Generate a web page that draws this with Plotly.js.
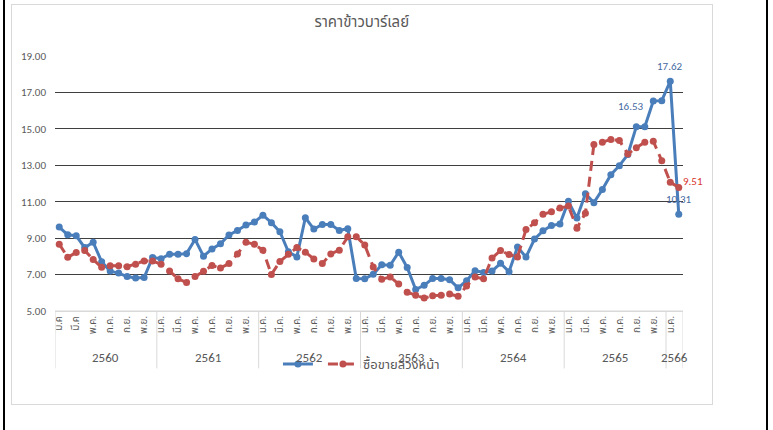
<!DOCTYPE html>
<html>
<head>
<meta charset="utf-8">
<script src="https://cdn.plot.ly/plotly-3.0.1.min.js"></script>
<style>
  html, body { margin:0; padding:0; background:#ffffff; }
  #wrap { position:relative; width:773px; height:430px; overflow:hidden; }
  #frame { position:absolute; left:11px; top:4px; width:700px; height:399px; border:1px solid #D9D9D9; }
  .blk { position:absolute; top:0; width:2px; height:430px; background:#000; }
  #chart { position:absolute; left:0; top:0; width:773px; height:430px; }
</style>
</head>
<body>
<div id="wrap">
  <div id="frame"></div>
  <div class="blk" style="left:3px"></div>
  <div class="blk" style="left:766px"></div>
  <div id="chart"></div>
</div>
<script>
// ---- data ----
const chartTitle = "ราคาข้าวบาร์เลย์";
const years = ["2560","2561","2562","2563","2564","2565","2566"];
const monthsPerYear = [12,12,12,12,12,12,2];
const monthLabels = ["ม.ค.","ก.พ.","มี.ค.","เม.ย.","พ.ค.","มิ.ย.","ก.ค.","ส.ค.","ก.ย.","ต.ค.","พ.ย.","ธ.ค."];
const firstYearLabels = ["ม.ค","ก.พ","มี.ค"];
const yTicks = [5,7,9,11,13,15,17,19];

const spotName = "";
const spotPrice = [
  9.61,9.18,9.13,8.48,8.77,7.70,7.19,7.08,6.89,6.81,6.84,7.94,
  7.87,8.12,8.12,8.15,8.93,8.01,8.41,8.69,9.17,9.42,9.72,9.88,
  10.26,9.85,9.35,8.25,7.97,10.12,9.50,9.75,9.75,9.42,9.52,6.78,
  6.77,7.02,7.54,7.51,8.23,7.39,6.18,6.41,6.78,6.78,6.72,6.27,
  6.66,7.21,7.12,7.19,7.62,7.16,8.51,7.96,8.95,9.40,9.70,9.77,
  11.02,10.10,11.44,10.95,11.67,12.48,12.98,13.59,15.12,15.12,16.53,16.55,
  17.62,10.31
];
const futuresName = "ซื้อขายล่วงหน้า";
const futuresPrice = [
  8.67,7.95,8.21,8.32,7.83,7.40,7.49,7.49,7.43,7.57,7.75,7.75,
  7.56,7.19,6.77,6.57,6.90,7.18,7.50,7.36,7.61,8.13,8.78,8.66,
  8.34,7.01,7.72,8.11,8.48,8.23,7.86,7.61,8.13,8.34,9.07,9.08,
  8.62,7.42,6.75,6.87,6.48,6.03,5.86,5.71,5.84,5.86,5.93,5.81,
  6.37,6.86,6.77,7.91,8.32,8.10,7.97,9.47,9.84,10.31,10.45,10.65,
  10.76,9.55,10.36,14.14,14.27,14.42,14.36,13.62,13.96,14.27,14.32,13.25,
  12.07,11.78
];
// labelled points: [series, index, text]
const spotLabels = [[70,"16.53"],[72,"17.62"],[73,"10.31"]];
const futuresLabels = [[73,"9.51"]];

// ---- build ----
const idx = [], tickVals = [], tickText = [], yearStart = [];
let k = 0;
years.forEach((y, yi) => {
  yearStart.push(k);
  for (let m = 0; m < monthsPerYear[yi]; m++) {
    idx.push(k);
    if (m % 2 === 0) {
      tickVals.push(k);
      tickText.push(yi === 0 && m < 3 ? firstYearLabels[m] : monthLabels[m]);
    }
    k++;
  }
});
const nCat = k;

const FONT = "Calibri, Carlito, Tahoma, 'Noto Sans Thai', 'Liberation Sans', 'DejaVu Sans', sans-serif";
const GREY = "#595959";
const BLUE = "#4A7EBB";
const RED = "#C0504D";

const shapes = [];
const annotations = [];
// year dividers
for (let yi = 0; yi <= years.length; yi++) {
  const b = (yi < years.length ? yearStart[yi] : nCat) - 0.5;
  shapes.push({type:"line", xref:"x", yref:"paper", x0:b, x1:b, y0:0, y1:-0.225,
    line:{color:"#D9D9D9", width:1}});
}
years.forEach((y, yi) => {
  const c = yearStart[yi] + (monthsPerYear[yi]-1)/2;
  annotations.push({xref:"x", yref:"paper", x:c, y:-0.183, text:y, showarrow:false,
    font:{family:FONT, size:13, color:GREY}, yanchor:"middle"});
});
spotLabels.forEach(([i, t]) => {
  const isLeft = i === 70;
  annotations.push({xref:"x", yref:"y", x:i, y:spotPrice[i], text:t, showarrow:false,
    font:{family:FONT, size:11, color:"#44699F"},
    xshift: isLeft ? -22 : 0, yshift: isLeft ? -6 : 15});
});
futuresLabels.forEach(([i, t]) => {
  annotations.push({xref:"x", yref:"y", x:i, y:futuresPrice[i], text:t, showarrow:false,
    font:{family:FONT, size:11, color:"#D9342B"}, xshift:14, yshift:6});
});

const traces = [
  {x: idx, y: spotPrice, name: spotName, type:"scatter", mode:"lines+markers",
   line:{color:BLUE, width:3}, marker:{color:BLUE, size:7}},
  {x: idx, y: futuresPrice, name: futuresName, type:"scatter", mode:"lines+markers",
   line:{color:RED, width:3, dash:"10px,6px"}, marker:{color:RED, size:7}}
];

const layout = {
  width:773, height:430,
  margin:{l:55, r:90, t:56, b:119},
  paper_bgcolor:"rgba(0,0,0,0)", plot_bgcolor:"rgba(0,0,0,0)",
  font:{family:FONT, color:GREY},
  title:{text:chartTitle, font:{family:FONT, size:15, color:GREY}, x:0.468, xanchor:"center", y:0.949, yanchor:"middle"},
  showlegend:true,
  legend:{orientation:"h", x:0.355, xanchor:"left", y:-0.208, yanchor:"middle",
    font:{family:FONT, size:13, color:GREY}, bgcolor:"rgba(0,0,0,0)", itemwidth:30, tracegroupgap:0},
  xaxis:{range:[-0.5, nCat-0.5], tickmode:"array", tickvals:tickVals, ticktext:tickText,
    tickangle:-90, tickfont:{family:FONT, size:10, color:GREY}, showgrid:false, zeroline:false,
    showline:true, linecolor:"#D9D9D9", linewidth:1, ticks:"", fixedrange:true},
  yaxis:{range:[5,19], tickmode:"array", tickvals:yTicks, tickformat:".2f",
    tickfont:{family:FONT, size:11, color:GREY}, showgrid:true, gridcolor:"#3F3F3F", gridwidth:1,
    zeroline:false, showline:false, ticks:"", ticklabelstandoff:8, fixedrange:true},
  shapes: shapes.concat([{type:"line", xref:"paper", yref:"y", x0:0, x1:1, y0:5, y1:5, line:{color:"#D9D9D9", width:1}}]),
  annotations: annotations,
  hovermode:false
};

Plotly.newPlot("chart", traces, layout, {staticPlot:true, displayModeBar:false});
</script>
</body>
</html>
